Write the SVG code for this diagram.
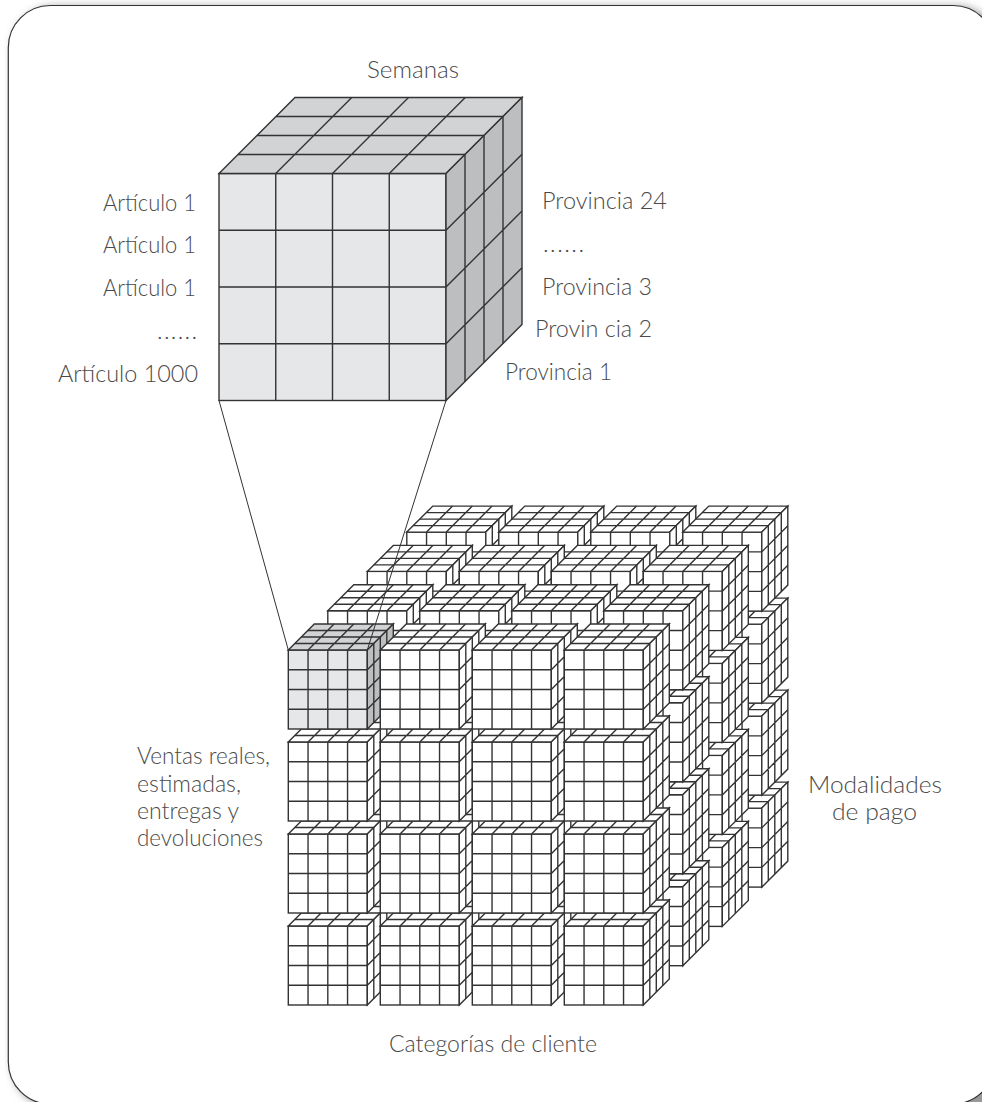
<svg xmlns="http://www.w3.org/2000/svg" xmlns:xlink="http://www.w3.org/1999/xlink" width="982" height="1102" viewBox="0 0 982 1102">
<style>
.e{stroke:#333;stroke-width:1.4;stroke-linejoin:miter}
.w{fill:#fff}
.gf{fill:#e6e7e8}.gt{fill:#d1d3d4}.gr{fill:#bcbec0}
.n{fill:none}
.t{font-family:"Lato","Open Sans",sans-serif;font-weight:300;font-size:24px;fill:#4a4a4a}
.c{stroke:#333;stroke-width:1;fill:none}
</style>
<defs>
<filter id="sh" x="-5%" y="-5%" width="110%" height="110%"><feGaussianBlur stdDeviation="5"/></filter>
<path id="grid" class="e n" d="M19.75 0V79M39.5 0V79M59.25 0V79M0 19.75H79M0 39.5H79M0 59.25H79M6.5 -6.5H85.5M13 -13H92M19.5 -19.5H98.5M19.75 0L45.75 -26M39.5 0L65.5 -26M59.25 0L85.25 -26M85.5 -6.5V72.5M92 -13V66M98.5 -19.5V59.5M79 19.75L105 -6.25M79 39.5L105 13.5M79 59.25L105 33.25"/>
<g id="cube"><rect class="w e" width="79" height="79"/><path class="w e" d="M0 0L26 -26H105L79 0Z"/><path class="w e" d="M79 0L105 -26V53L79 79Z"/><use href="#grid"/></g>
</defs>
<rect width="982" height="1102" fill="#fff"/>
<g id="frame">
<rect x="13" y="7" width="986" height="1100" rx="42" fill="#8a8a8a" filter="url(#sh)"/>
<path d="M965 1102Q976 1097 982 1090V1102Z" fill="#999"/>
<rect x="8.3" y="5.5" width="986.7" height="1098.5" rx="42" fill="#fff" stroke="#333" stroke-width="1.2"/>
</g>
<g id="big-cube">
<rect class="gf e" x="219" y="173.5" width="227" height="227"/>
<path class="gt e" d="M219 173.5L295 97.5H522L446 173.5Z"/>
<path class="gr e" d="M446 173.5L522 97.5V324.5L446 400.5Z"/>
<path class="e n" d="M275.75 173.5V400.5M332.5 173.5V400.5M389.25 173.5V400.5M219 230.25H446M219 287H446M219 343.75H446M238 154.5H465M257 135.5H484M276 116.5H503M275.75 173.5L351.75 97.5M332.5 173.5L408.5 97.5M389.25 173.5L465.25 97.5M465 154.5V381.5M484 135.5V362.5M503 116.5V343.5M446 230.25L522 154.25M446 287L522 211M446 343.75L522 267.75"/>
</g>
<g id="small-cubes">
<g id="l3r3c0"><use href="#cube" x="406.8" y="808.1"/></g><g id="l3r3c1"><use href="#cube" x="498.8" y="808.1"/></g><g id="l3r3c2"><use href="#cube" x="590.8" y="808.1"/></g><g id="l3r3c3"><use href="#cube" x="682.8" y="808.1"/></g>
<g id="l3r2c0"><use href="#cube" x="406.8" y="716.1"/></g><g id="l3r2c1"><use href="#cube" x="498.8" y="716.1"/></g><g id="l3r2c2"><use href="#cube" x="590.8" y="716.1"/></g><g id="l3r2c3"><use href="#cube" x="682.8" y="716.1"/></g>
<g id="l3r1c0"><use href="#cube" x="406.8" y="624.1"/></g><g id="l3r1c1"><use href="#cube" x="498.8" y="624.1"/></g><g id="l3r1c2"><use href="#cube" x="590.8" y="624.1"/></g><g id="l3r1c3"><use href="#cube" x="682.8" y="624.1"/></g>
<g id="l3r0c0"><use href="#cube" x="406.8" y="532.1"/></g><g id="l3r0c1"><use href="#cube" x="498.8" y="532.1"/></g><g id="l3r0c2"><use href="#cube" x="590.8" y="532.1"/></g><g id="l3r0c3"><use href="#cube" x="682.8" y="532.1"/></g>
<g id="l2r3c0"><use href="#cube" x="367.3" y="847.4"/></g><g id="l2r3c1"><use href="#cube" x="459.3" y="847.4"/></g><g id="l2r3c2"><use href="#cube" x="551.3" y="847.4"/></g><g id="l2r3c3"><use href="#cube" x="643.3" y="847.4"/></g>
<g id="l2r2c0"><use href="#cube" x="367.3" y="755.4"/></g><g id="l2r2c1"><use href="#cube" x="459.3" y="755.4"/></g><g id="l2r2c2"><use href="#cube" x="551.3" y="755.4"/></g><g id="l2r2c3"><use href="#cube" x="643.3" y="755.4"/></g>
<g id="l2r1c0"><use href="#cube" x="367.3" y="663.4"/></g><g id="l2r1c1"><use href="#cube" x="459.3" y="663.4"/></g><g id="l2r1c2"><use href="#cube" x="551.3" y="663.4"/></g><g id="l2r1c3"><use href="#cube" x="643.3" y="663.4"/></g>
<g id="l2r0c0"><use href="#cube" x="367.3" y="571.4"/></g><g id="l2r0c1"><use href="#cube" x="459.3" y="571.4"/></g><g id="l2r0c2"><use href="#cube" x="551.3" y="571.4"/></g><g id="l2r0c3"><use href="#cube" x="643.3" y="571.4"/></g>
<g id="l1r3c0"><use href="#cube" x="327.8" y="886.7"/></g><g id="l1r3c1"><use href="#cube" x="419.8" y="886.7"/></g><g id="l1r3c2"><use href="#cube" x="511.8" y="886.7"/></g><g id="l1r3c3"><use href="#cube" x="603.8" y="886.7"/></g>
<g id="l1r2c0"><use href="#cube" x="327.8" y="794.7"/></g><g id="l1r2c1"><use href="#cube" x="419.8" y="794.7"/></g><g id="l1r2c2"><use href="#cube" x="511.8" y="794.7"/></g><g id="l1r2c3"><use href="#cube" x="603.8" y="794.7"/></g>
<g id="l1r1c0"><use href="#cube" x="327.8" y="702.7"/></g><g id="l1r1c1"><use href="#cube" x="419.8" y="702.7"/></g><g id="l1r1c2"><use href="#cube" x="511.8" y="702.7"/></g><g id="l1r1c3"><use href="#cube" x="603.8" y="702.7"/></g>
<g id="l1r0c0"><use href="#cube" x="327.8" y="610.7"/></g><g id="l1r0c1"><use href="#cube" x="419.8" y="610.7"/></g><g id="l1r0c2"><use href="#cube" x="511.8" y="610.7"/></g><g id="l1r0c3"><use href="#cube" x="603.8" y="610.7"/></g>
<g id="l0r3c0"><use href="#cube" x="288.3" y="926"/></g><g id="l0r3c1"><use href="#cube" x="380.3" y="926"/></g><g id="l0r3c2"><use href="#cube" x="472.3" y="926"/></g><g id="l0r3c3"><use href="#cube" x="564.3" y="926"/></g>
<g id="l0r2c0"><use href="#cube" x="288.3" y="834"/></g><g id="l0r2c1"><use href="#cube" x="380.3" y="834"/></g><g id="l0r2c2"><use href="#cube" x="472.3" y="834"/></g><g id="l0r2c3"><use href="#cube" x="564.3" y="834"/></g>
<g id="l0r1c0"><use href="#cube" x="288.3" y="742"/></g><g id="l0r1c1"><use href="#cube" x="380.3" y="742"/></g><g id="l0r1c2"><use href="#cube" x="472.3" y="742"/></g><g id="l0r1c3"><use href="#cube" x="564.3" y="742"/></g>
<g id="l0r0c0" transform="translate(288.3 650)"><rect class="gf e" width="79" height="79"/><path class="gt e" d="M0 0L26 -26H105L79 0Z"/><path class="gr e" d="M79 0L105 -26V53L79 79Z"/><use href="#grid"/></g>
<g id="l0r0c1"><use href="#cube" x="380.3" y="650"/></g><g id="l0r0c2"><use href="#cube" x="472.3" y="650"/></g><g id="l0r0c3"><use href="#cube" x="564.3" y="650"/></g>
</g>
<g id="connectors">
<path class="c" d="M219 400.5L288.3 650M446 400.5L367.3 650"/>
</g>
<g id="labels">
<text class="t" x="367" y="78" textLength="92" lengthAdjust="spacingAndGlyphs">Semanas</text>
<text class="t" x="103" y="211" textLength="93" lengthAdjust="spacingAndGlyphs">Artículo 1</text>
<text class="t" x="103" y="253" textLength="93" lengthAdjust="spacingAndGlyphs">Artículo 1</text>
<text class="t" x="103" y="296" textLength="93" lengthAdjust="spacingAndGlyphs">Artículo 1</text>
<text class="t" x="157" y="339" textLength="40" lengthAdjust="spacing">......</text>
<text class="t" x="58" y="382" textLength="140" lengthAdjust="spacingAndGlyphs">Artículo 1000</text>
<text class="t" x="542" y="209" textLength="125" lengthAdjust="spacingAndGlyphs">Provincia 24</text>
<text class="t" x="543" y="252" textLength="41" lengthAdjust="spacing">......</text>
<text class="t" x="542" y="295" textLength="110" lengthAdjust="spacingAndGlyphs">Provincia 3</text>
<text class="t" x="535" y="337" textLength="117" lengthAdjust="spacingAndGlyphs">Provin cia 2</text>
<text class="t" x="505" y="380" textLength="107" lengthAdjust="spacingAndGlyphs">Provincia 1</text>
<text class="t" x="137" y="764" textLength="133" lengthAdjust="spacingAndGlyphs">Ventas reales,</text>
<text class="t" x="137" y="792" textLength="104" lengthAdjust="spacingAndGlyphs">estimadas,</text>
<text class="t" x="137" y="819" textLength="102" lengthAdjust="spacingAndGlyphs">entregas y</text>
<text class="t" x="137" y="846" textLength="126" lengthAdjust="spacingAndGlyphs">devoluciones</text>
<text class="t" x="808" y="793" textLength="134" lengthAdjust="spacingAndGlyphs">Modalidades</text>
<text class="t" x="832" y="820" textLength="85" lengthAdjust="spacingAndGlyphs">de pago</text>
<text class="t" x="389" y="1052" textLength="208" lengthAdjust="spacingAndGlyphs">Categorías de cliente</text>
</g>
</svg>
